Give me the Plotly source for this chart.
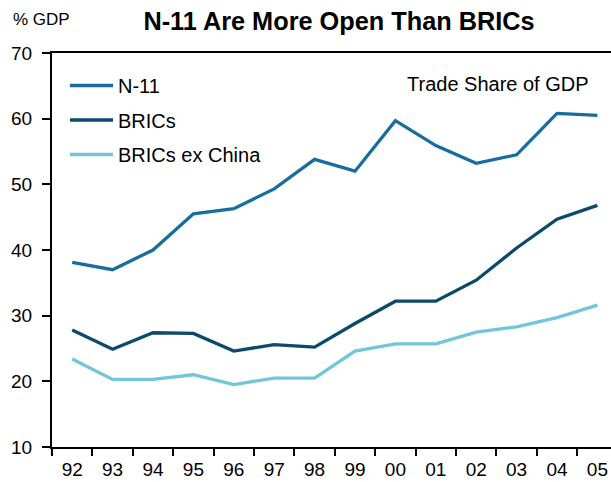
import plotly.graph_objects as go

years = ["92", "93", "94", "95", "96", "97", "98", "99", "00", "01", "02", "03", "04", "05"]
n11 = [38.1, 37.0, 40.0, 45.5, 46.3, 49.3, 53.8, 52.0, 59.7, 55.9, 53.2, 54.5, 60.8, 60.5]
brics = [27.8, 24.9, 27.4, 27.3, 24.6, 25.6, 25.2, 28.8, 32.2, 32.2, 35.4, 40.3, 44.7, 46.8]
brics_ex_china = [23.4, 20.3, 20.3, 21.0, 19.5, 20.5, 20.5, 24.6, 25.7, 25.7, 27.5, 28.3, 29.7, 31.6]

series_names = ["N-11", "BRICs", "BRICs ex China"]
series_colors = ["#176E9E", "#0C4A6B", "#72C6DA"]

W, H = 611, 482
L, R, T, B = 52, 0, 53, 35
pw, ph = W - L - R, H - T - B

def px_x(x):
    return (x - L) / pw

def px_y(y):
    return (H - B - y) / ph

FONT = "Liberation Sans, Arial, sans-serif"

fig = go.Figure()
for name, vals, col in zip(series_names, [n11, brics, brics_ex_china], series_colors):
    fig.add_trace(go.Scatter(x=years, y=vals, name=name, mode="lines",
                             line=dict(color=col, width=3.3), legendgroup=name))

fig.update_layout(
    width=W, height=H,
    margin=dict(l=L, r=R, t=T, b=B),
    paper_bgcolor="white", plot_bgcolor="white",
    font=dict(family=FONT, color="black", size=19),
    title=dict(text="<b>N-11 Are More Open Than BRICs</b>", x=339 / W, xanchor="center",
               y=1 - 21 / H, yanchor="middle", font=dict(size=25.3, family=FONT, color="black")),
    showlegend=True,
    legend=dict(x=px_x(65), y=px_y(66), xanchor="left", yanchor="top",
                bgcolor="rgba(0,0,0,0)", borderwidth=0, font=dict(size=20, family=FONT),
                traceorder="grouped", tracegroupgap=5.5, itemwidth=43),
    xaxis=dict(type="category", range=[-0.5, -0.5 + pw / 40.4], showgrid=False,
               showline=True, linecolor="black", linewidth=2, mirror=True,
               ticks="outside", tickson="boundaries", ticklen=7, tickwidth=2, tickcolor="black",
               ticklabelstandoff=4,
               tickfont=dict(size=19, family=FONT), zeroline=False),
    yaxis=dict(range=[10, 70], dtick=10, showgrid=False, showline=True, linecolor="black",
               linewidth=2, ticks="outside", ticklen=8, tickwidth=2, tickcolor="black",
               ticklabelstandoff=6,
               tickfont=dict(size=19, family=FONT), zeroline=False),
    annotations=[
        dict(text="% GDP", xref="paper", yref="paper", x=px_x(41), y=px_y(19),
             xanchor="center", yanchor="middle", showarrow=False, font=dict(size=17, family=FONT)),
        dict(text="Trade Share of GDP", xref="paper", yref="paper", x=px_x(591), y=px_y(84),
             xanchor="right", yanchor="middle", showarrow=False, font=dict(size=20, family=FONT)),
    ],
)

fig.write_html("out.html", config={"displayModeBar": False},
               post_script="document.body.style.margin='0';document.body.style.padding='0';")
